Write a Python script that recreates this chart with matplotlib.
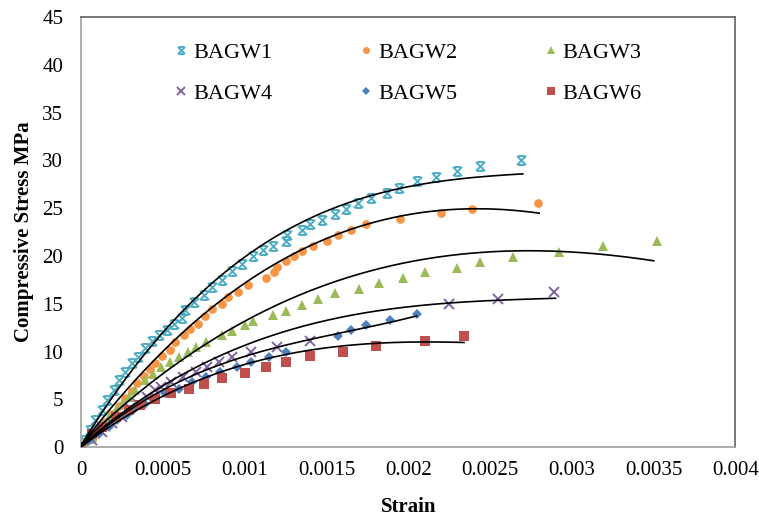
import matplotlib
matplotlib.use('Agg')
import matplotlib.pyplot as plt
import numpy as np
from matplotlib.path import Path
from matplotlib.ticker import FuncFormatter, MultipleLocator

plt.rcParams['font.family'] = ['Liberation Serif', 'DejaVu Serif']

# Valores (deformação, tensão MPa)
bagw1_strain = [0, 0.000014, 0.000055, 0.000086, 0.000127, 0.000157, 0.000198, 0.000228,
                0.000269, 0.00031, 0.00035, 0.000391, 0.000432, 0.000473, 0.000524, 0.000565,
                0.000616, 0.000636, 0.000687, 0.000748, 0.000799, 0.00086, 0.000922, 0.000983,
                0.00105, 0.00111, 0.00117, 0.00125, 0.00126, 0.00135, 0.0014, 0.00147, 0.00155,
                0.00162, 0.00169, 0.00177, 0.00187, 0.00194, 0.00205, 0.00217, 0.0023, 0.00244,
                0.00269]
bagw1_stress = [0, 0.73, 1.78, 2.83, 3.84, 4.92, 5.97, 7.01, 7.88, 8.76, 9.45, 10.38, 11.07,
                11.77, 12.3, 12.84, 13.54, 14.4, 15.2, 15.9, 16.8, 17.5, 18.4, 19.2, 20.0, 20.6,
                21.1, 21.6, 22.2, 22.7, 23.3, 23.8, 24.4, 24.9, 25.6, 26.1, 26.6, 27.1, 27.8,
                28.3, 28.9, 29.4, 30.0]

bagw2_strain = [0, 0.000065, 0.000106, 0.000147, 0.000188, 0.000228, 0.000269, 0.00031,
                0.00034, 0.000381, 0.000422, 0.000453, 0.000494, 0.000544, 0.000575, 0.000626,
                0.000667, 0.000717, 0.000758, 0.000799, 0.00086, 0.0009, 0.00096, 0.00102,
                0.00113, 0.00118, 0.0012, 0.00125, 0.0013, 0.00135, 0.00142, 0.0015, 0.00157,
                0.00165, 0.00174, 0.00195, 0.0022, 0.00239, 0.00279]
bagw2_stress = [0, 0.9, 1.8, 2.6, 3.5, 4.3, 5.1, 5.9, 6.7, 7.4, 8.2, 8.8, 9.5, 10.2, 10.99,
                11.7, 12.4, 12.9, 13.74, 14.5, 15.0, 15.7, 16.2, 17.0, 17.7, 18.3, 18.9, 19.5,
                20.0, 20.5, 21.1, 21.6, 22.2, 22.7, 23.3, 23.9, 24.45, 24.9, 25.6]

bagw3_strain = [0, 0.000024, 0.000065, 0.000106, 0.000136, 0.00017, 0.00021, 0.00025, 0.00029,
                0.00033, 0.00039, 0.00044, 0.00049, 0.00054, 0.0006, 0.00065, 0.0007, 0.00076,
                0.00086, 0.00092, 0.001, 0.00105, 0.00117, 0.00125, 0.00135, 0.00145, 0.00155,
                0.0017, 0.00182, 0.00197, 0.0021, 0.0023, 0.00244, 0.00264, 0.00292, 0.00319,
                0.00352]
bagw3_stress = [0, 0.55, 1.08, 1.78, 2.48, 3.17, 3.87, 4.57, 5.26, 5.96, 7.0, 7.7, 8.4, 8.9,
                9.45, 9.97, 10.5, 11.0, 11.7, 12.2, 12.8, 13.2, 13.8, 14.3, 14.9, 15.5, 16.1,
                16.6, 17.2, 17.7, 18.35, 18.8, 19.4, 19.9, 20.4, 21.1, 21.6]

bagw4_strain = [0, 0.000065, 0.00013, 0.00019, 0.00025, 0.0003, 0.00035, 0.0004, 0.00045,
                0.00049, 0.00055, 0.00062, 0.0007, 0.00077, 0.00084, 0.00092, 0.00104, 0.0012,
                0.0014, 0.00225, 0.00255, 0.00289]
bagw4_stress = [0, 0.73, 1.6, 2.48, 3.17, 4.05, 4.57, 5.26, 5.96, 6.31, 6.83, 7.36, 7.88, 8.4,
                8.93, 9.45, 9.97, 10.5, 11.1, 14.96, 15.5, 16.2]

bagw5_strain = [0, 0.000055, 0.000106, 0.00017, 0.00022, 0.00028, 0.00033, 0.00039, 0.00045,
                0.00051, 0.0006, 0.00068, 0.00076, 0.00085, 0.00095, 0.00104, 0.00115, 0.00125,
                0.00157, 0.00165, 0.00174, 0.00189, 0.00205]
bagw5_stress = [0, 0.73, 1.43, 2.13, 2.83, 3.35, 4.05, 4.57, 5.1, 5.62, 6.14, 6.83, 7.36, 7.88,
                8.4, 8.93, 9.45, 9.97, 11.65, 12.24, 12.77, 13.36, 13.9]

bagw6_strain = [0, 0.000065, 0.00013, 0.00021, 0.00029, 0.00036, 0.00045, 0.00055, 0.00066,
                0.00075, 0.00086, 0.001, 0.00113, 0.00125, 0.0014, 0.0016, 0.0018, 0.0021,
                0.00234]
bagw6_stress = [0, 1.43, 2.13, 3.17, 3.87, 4.4, 5.0, 5.62, 6.1, 6.6, 7.2, 7.8, 8.4, 8.93, 9.52,
                9.97, 10.57, 11.1, 11.65]

# Pontos das linhas de tendência
trend1_x = [0, 0.0005, 0.001, 0.0015, 0.002, 0.0023, 0.0027]
trend1_y = [0, 12.6, 19.75, 24.1, 27.4, 28.6, 28.3]
trend2_x = [0, 0.0005, 0.001, 0.0015, 0.002, 0.00234, 0.0028]
trend2_y = [0, 10.5, 16.95, 21.5, 24.5, 25.15, 24.35]
trend3_x = [0, 0.0005, 0.001, 0.0015, 0.002, 0.0025, 0.0029, 0.0032, 0.0035]
trend3_y = [0, 8.4, 13.2, 16.6, 19.0, 20.6, 20.9, 20.3, 19.2]
trend4_x = [0, 0.0005, 0.001, 0.0015, 0.002, 0.0025, 0.0029]
trend4_y = [0, 6.9, 10.5, 12.9, 14.8, 15.65, 15.4]
trend5_x = [0, 0.0005, 0.001, 0.0015, 0.0018, 0.00205]
trend5_y = [0, 6.0, 9.5, 11.6, 12.8, 13.7]
trend6_x = [0, 0.0005, 0.001, 0.0015, 0.002, 0.00234]
trend6_y = [0, 5.5, 8.5, 10.4, 11.1, 10.9]

labels = ['BAGW1', 'BAGW2', 'BAGW3', 'BAGW4', 'BAGW5', 'BAGW6']
colors = ['#4BACC6', '#F79646', '#9BBB59', '#8064A2', '#4F81BD', '#C0504D']

# Marcador "x" com barras (estilo Excel)
star_x = Path([(-1, -1), (1, 1), (-1, 1), (1, -1), (-0.7, 1), (0.7, 1), (-0.7, -1), (0.7, -1)],
              [Path.MOVETO, Path.LINETO] * 4)
markers = [star_x, 'o', '^', 'x', 'D', 's']
msizes = [6.5, 6.3, 7, 6.5, 5.3, 6.5]

series = [(bagw1_strain, bagw1_stress), (bagw2_strain, bagw2_stress),
          (bagw3_strain, bagw3_stress), (bagw4_strain, bagw4_stress),
          (bagw5_strain, bagw5_stress), (bagw6_strain, bagw6_stress)]
trends = [(trend1_x, trend1_y), (trend2_x, trend2_y), (trend3_x, trend3_y),
          (trend4_x, trend4_y), (trend5_x, trend5_y), (trend6_x, trend6_y)]

fig = plt.figure(figsize=(7.59, 5.17), dpi=100)
ax = fig.add_axes([0.107, 0.135, 0.862, 0.832])

handles = []
for i, ((sx, sy), lab, c, m, ms) in enumerate(zip(series, labels, colors, markers, msizes)):
  mew = 1.4 if i in (0, 3) else 0
  h, = ax.plot(sx, sy, linestyle='none', marker=m, markersize=ms, color=c,
               markeredgecolor=c, markeredgewidth=mew, label=lab, zorder=2)
  handles.append(h)

# Linhas de tendência polinomiais
for tx, ty in trends:
  coef = np.polyfit(tx, ty, 3)
  xs = np.linspace(0, tx[-1], 200)
  ax.plot(xs, np.polyval(coef, xs), color='black', linewidth=1.2, zorder=3)

ax.set_xlim(0, 0.004)
ax.set_ylim(0, 45)
ax.xaxis.set_major_locator(MultipleLocator(0.0005))
ax.yaxis.set_major_locator(MultipleLocator(5))
ax.xaxis.set_major_formatter(FuncFormatter(lambda v, p: '%g' % round(v, 6)))
ax.tick_params(length=0, labelsize=15)
ax.tick_params(axis='x', pad=10)
ax.tick_params(axis='y', pad=13)
for s in ['left', 'bottom']:
  ax.spines[s].set_color('#A0A0A0')
for s in ['top', 'right']:
  ax.spines[s].set_color('#606060')
for s in ax.spines.values():
  s.set_linewidth(1.2)

ax.set_xlabel('Strain', fontsize=15, fontweight='bold', labelpad=12)
ax.set_ylabel('Compressive Stress MPa', fontsize=15, fontweight='bold', labelpad=6)

order = [0, 3, 1, 4, 2, 5]
ax.legend([handles[i] for i in order], [labels[i] for i in order], ncol=3, frameon=False,
          loc='upper left', bbox_to_anchor=(0.112, 0.987), fontsize=16, numpoints=1,
          handlelength=0.6, handletextpad=0.25, columnspacing=3.9, labelspacing=0.9,
          markerscale=0.8)

fig.savefig('out.png', dpi=100)
